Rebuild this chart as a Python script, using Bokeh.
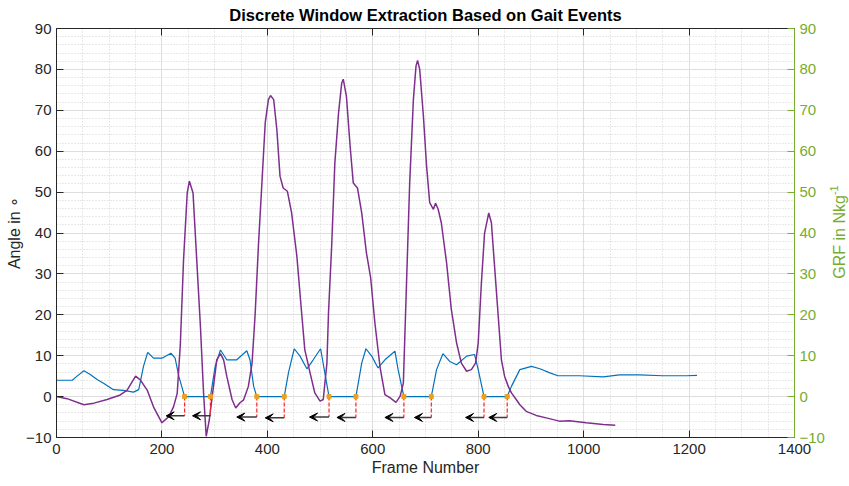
import math
from bokeh.plotting import figure
from bokeh.layouts import row
from bokeh.models import (Range1d, LinearAxis, SingleIntervalTicker,
                          ColumnDataSource, Arrow, VeeHead, Div)
from bokeh.embed import file_html
from bokeh.resources import INLINE

# ---------------- data ----------------
angle_frame = [0, 20, 52, 71, 96, 121, 134, 150, 159, 172, 184, 200, 213, 222,
               229, 235, 241, 248, 252, 259, 266, 273, 279, 284, 290, 297, 304,
               311, 317, 323, 333, 340, 348, 355, 364, 371, 377, 383, 390, 396,
               402, 406, 412, 418, 424, 430, 438, 446, 456, 465, 471, 481, 490,
               500, 506, 513, 516, 522, 528, 535, 541, 544, 550, 557, 563, 571,
               579, 588, 596, 604, 614, 623, 633, 644, 652, 658, 664, 670, 677,
               682, 685, 689, 696, 702, 708, 715, 719, 724, 730, 740, 749, 759,
               768, 778, 787, 795, 800, 806, 812, 820, 825, 831, 838, 844, 850,
               857, 863, 872, 879, 891, 910, 929, 954, 973, 1005, 1037, 1060]
angle_deg = [0.0, -0.5, -2.0, -1.6, -0.7, 0.4, 1.6, 5.0, 4.1, 1.6, -2.5, -6.4,
             -4.9, -2.5, 0.8, 13.0, 33.4, 49.8, 52.7, 49.8, 33.5, 17.2, 0.8,
             -9.7, -5.6, 1.7, 9.0, 10.5, 9.0, 5.0, -0.7, -2.8, -1.5, -0.8, 2.5,
             8.2, 20.5, 36.8, 53.0, 67.0, 72.6, 73.6, 72.6, 65.3, 53.9, 51.0,
             50.2, 44.9, 34.3, 20.5, 11.5, 5.8, 0.9, -1.1, -0.7, 8.2, 20.5,
             36.8, 57.0, 69.3, 76.6, 77.6, 73.4, 61.2, 52.2, 51.0, 44.9, 35.1,
             29.0, 18.0, 7.0, 0.5, -0.3, -1.4, 0.1, 3.3, 27.7, 52.2, 72.6,
             80.8, 82.2, 80.0, 68.6, 56.4, 47.4, 45.8, 47.3, 45.8, 42.5, 32.7,
             21.3, 13.1, 8.2, 6.2, 6.6, 8.2, 13.1, 27.7, 39.9, 44.9, 42.5, 31.9,
             19.6, 9.0, 5.0, 2.5, 0.9, -0.7, -2.0, -3.6, -4.6, -5.2, -6.0, -5.9,
             -6.4, -6.8, -7.0]

grf_frame = [0, 30, 39, 52, 64, 77, 90, 108, 127, 146, 156, 165, 173, 184, 200,
             217, 225, 232, 243, 292, 301, 311, 323, 342, 361, 367, 374, 380,
             432, 440, 451, 462, 475, 487, 501, 509, 517, 568, 579, 587, 598,
             610, 623, 642, 648, 659, 711, 721, 733, 746, 759, 778, 793, 800,
             811, 855, 863, 879, 901, 917, 936, 951, 992, 1037, 1068, 1106,
             1150, 1195, 1215]
grf_val = [4.0, 4.0, 5.0, 6.3, 5.4, 4.2, 3.2, 1.7, 1.5, 1.1, 1.7, 7.4, 10.8,
           9.4, 9.4, 10.6, 9.4, 5.0, 0.0, 0.0, 7.4, 11.4, 9.0, 9.0, 11.2, 9.0,
           2.5, 0.0, 0.0, 5.8, 11.7, 9.9, 6.8, 9.0, 11.7, 5.8, 0.0, 0.0, 8.2,
           11.7, 9.9, 7.0, 9.0, 11.1, 6.6, 0.0, 0.0, 6.6, 10.5, 8.6, 7.8, 9.9,
           10.3, 6.6, 0.0, 0.0, 2.5, 6.6, 7.4, 6.8, 5.8, 5.1, 5.1, 4.8, 5.3,
           5.3, 5.1, 5.1, 5.2]

event_frame = [243, 292, 380, 432, 517, 568, 659, 711, 811, 855]
event_level = [0, 0, 0, 0, 0, 0, 0, 0, 0, 0]
arrow_head_frame = [208, 258, 342, 396, 480, 532, 623, 679, 776, 820]
arrow_level = [-4.7, -4.7, -5.0, -5.2, -5.0, -5.1, -5.1, -5.1, -5.1, -5.1]

title_text = "Discrete Window Extraction Based on Gait Events"
x_label = "Frame Number"
y_label_left = "Angle in \u2218"
y_label_right_main = "GRF in Nkg"
y_label_right_sup = "-1"

# ---------------- styling ----------------
FONT = "Liberation Sans"
DARK = "#262626"
GREEN = "#77AC30"
BLUE = "#0072BD"
PURPLE = "#7E2F8E"
ORANGE = "#EDA020"

p = figure(width=827, height=486, output_backend="svg", toolbar_location=None,
           x_range=Range1d(0, 1400), y_range=Range1d(-10, 90),
           x_axis_location=None, y_axis_location=None,
           min_border_left=56, min_border_right=32, min_border_top=28,
           min_border_bottom=49, margin=0)
p.extra_y_ranges = {"grf": Range1d(-10, 90)}
p.background_fill_color = "white"
p.border_fill_color = "white"
p.outline_line_color = DARK
p.outline_line_width = 1

p.title.text = title_text
p.title.align = "center"
p.title.vertical_align = "top"
p.title.text_font = FONT
p.title.text_font_size = "16.5px"
p.title.text_font_style = "bold"
p.title.text_color = "black"
p.title.standoff = 6

xt = SingleIntervalTicker(interval=200, num_minor_ticks=4)
yt = SingleIntervalTicker(interval=10, num_minor_ticks=5)


def style_axis(ax, color):
    ax.axis_line_color = color
    ax.major_tick_line_color = color
    ax.major_tick_in = 7
    ax.major_tick_out = 0
    ax.minor_tick_in = 0
    ax.minor_tick_out = 0
    ax.major_label_text_font = FONT
    ax.major_label_text_font_size = "15px"
    ax.major_label_text_color = color
    ax.axis_label_text_font = FONT
    ax.axis_label_text_font_size = "16px"
    ax.axis_label_text_font_style = "normal"
    ax.axis_label_text_color = color


xb = LinearAxis(ticker=xt, axis_label=x_label)
style_axis(xb, DARK)
xb.major_label_standoff = 6
xb.axis_label_standoff = 2
p.add_layout(xb, "below")

xa = LinearAxis(ticker=xt)
style_axis(xa, DARK)
xa.major_label_text_font_size = "0px"
xa.major_label_standoff = 0
p.add_layout(xa, "above")

yl = LinearAxis(ticker=yt, axis_label=y_label_left)
style_axis(yl, DARK)
yl.major_label_standoff = 5
yl.axis_label_standoff = 0
p.add_layout(yl, "left")

yr = LinearAxis(ticker=yt, y_range_name="grf")
style_axis(yr, GREEN)
yr.major_label_standoff = 5
p.add_layout(yr, "right")

p.xgrid.ticker = xt
p.ygrid.ticker = yt
for g in (p.xgrid, p.ygrid):
    g.grid_line_color = "#dedede"
    g.grid_line_width = 1
    g.minor_grid_line_color = "#d2d2d2"
    g.minor_grid_line_dash = "1 2"
    g.minor_grid_line_width = 1

# ---------------- glyphs ----------------
p.line(grf_frame, grf_val, color=BLUE, line_width=1.2, y_range_name="grf")
p.line(angle_frame, angle_deg, color=PURPLE, line_width=1.5)

p.segment(x0=event_frame, y0=event_level, x1=event_frame, y1=arrow_level,
          line_color="#ff2020", line_width=1.2, line_dash="4 2",
          y_range_name="grf")

arrows = ColumnDataSource(dict(xs=event_frame, ys=arrow_level,
                               xe=arrow_head_frame, ye=arrow_level))
p.add_layout(Arrow(source=arrows, x_start="xs", y_start="ys", x_end="xe",
                   y_end="ye", line_color="#3a3a3a", line_width=1.5,
                   end=VeeHead(size=8, fill_color="black",
                               line_color="black", line_width=1),
                   y_range_name="grf"))

p.scatter(event_frame, event_level, marker="square", size=4,
          fill_color=ORANGE, line_color=ORANGE, y_range_name="grf")

# right-axis title (reads bottom to top) in a narrow strip beside the plot
right_title = Div(
    width=22, height=486, margin=0,
    text=('<div style="position:relative;width:22px;height:486px;">'
          '<div style="position:absolute;left:10px;top:232px;'
          'transform:translate(-50%,-50%) rotate(-90deg);'
          'white-space:nowrap;color:' + GREEN + ';'
          "font-family:'Liberation Sans';font-size:16px;line-height:16px;\">"
          + y_label_right_main +
          '<sup style="font-size:11px;">' + y_label_right_sup + '</sup>'
          '</div></div>'))

layout = row(p, right_title, spacing=0, margin=0)

open("out.html", "w").write(file_html(layout, INLINE))
